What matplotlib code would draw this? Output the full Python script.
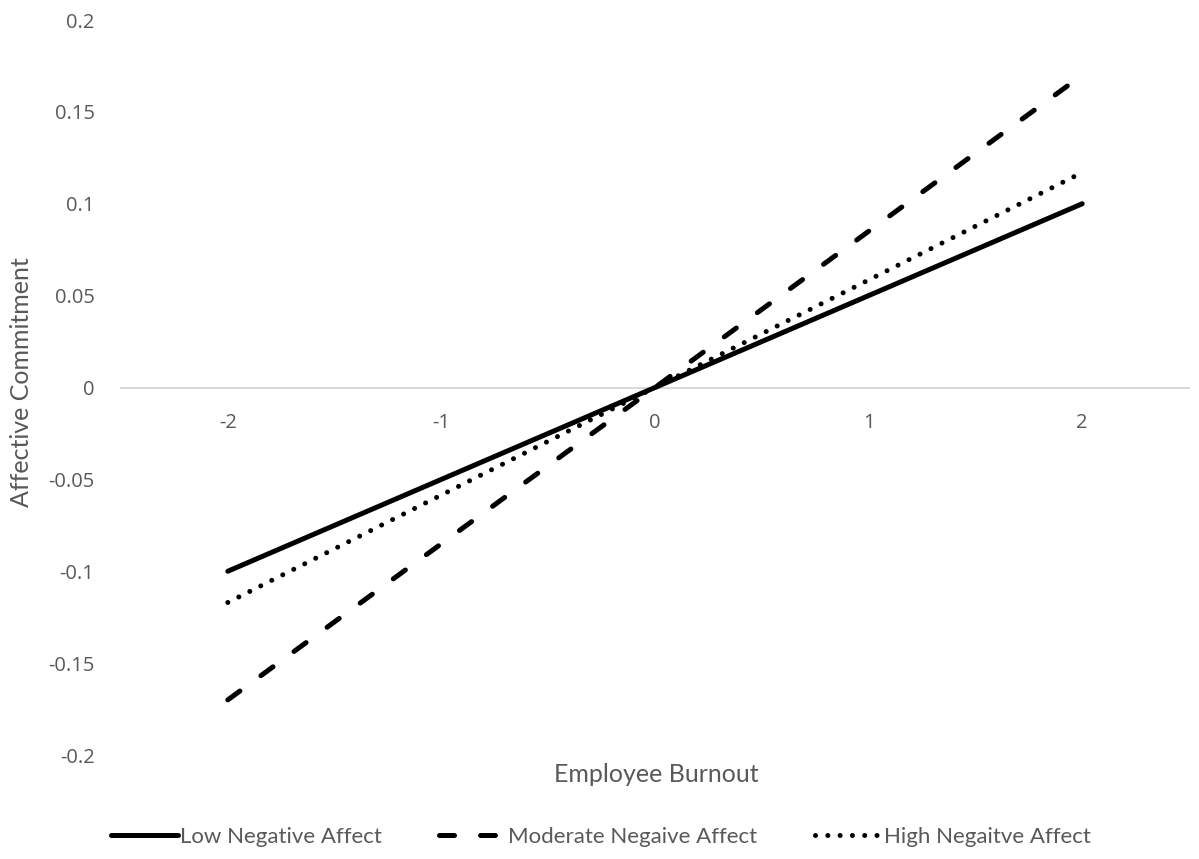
import numpy as np
import matplotlib.pyplot as plt

# values
burnout = [-2, -1, 0, 1, 2]
low_na = [-0.1, -0.05, 0, 0.05, 0.1]
moderate_na = [-0.17, -0.085, 0, 0.085, 0.17]
high_na = [-0.117, -0.0585, 0, 0.0585, 0.117]
series_names = ["Low Negative Affect", "Moderate Negaive Affect", "High Negaitve Affect"]
y_ticks = [0.2, 0.15, 0.1, 0.05, 0, -0.05, -0.1, -0.15, -0.2]

plt.rcParams['font.family'] = ['Open Sans', 'DejaVu Sans']
grey = "#595959"
label_font = ["Lato", "DejaVu Sans"]

fig = plt.figure(figsize=(11.99, 8.59), dpi=100)
ax = fig.add_axes([121 / 1199, 1 - 755 / 859, (1189 - 121) / 1199, (755 - 20) / 859])

lw = 3.6
ax.plot(burnout, low_na, color="black", lw=lw, solid_capstyle="round", label=series_names[0])
ax.plot(burnout, moderate_na, color="black", lw=lw, linestyle=(0, (3.0, 5.2)),
        dash_capstyle="round", label=series_names[1])
ax.plot(burnout, high_na, color="black", lw=lw, linestyle=(0, (0.01, 2.45)),
        dash_capstyle="round", label=series_names[2])

ax.set_xlim(-2.5, 2.5)
ax.set_ylim(-0.2, 0.2)
ax.set_xticks(burnout)
ax.set_xticklabels([str(v) for v in burnout])
ax.set_yticks(y_ticks)
ax.set_yticklabels([("%g" % v) for v in y_ticks])

for s in ["top", "right", "left"]:
    ax.spines[s].set_visible(False)
ax.spines["bottom"].set_position(("data", 0))
ax.spines["bottom"].set_color("#d9d9d9")
ax.spines["bottom"].set_linewidth(1.5)
ax.spines["bottom"].set_zorder(0)

ax.tick_params(axis="x", length=0, pad=18, labelsize=14.5, labelcolor=grey)
ax.tick_params(axis="y", length=0, pad=19, labelsize=14.5, labelcolor=grey)

fig.text(656 / 1199, 1 - 775 / 859, "Employee Burnout", ha="center", va="center",
         fontsize=18, color=grey, family=label_font)
fig.text(22 / 1199, 1 - 382 / 859, "Affective Commitment", ha="center", va="center",
         rotation=90, fontsize=18, color=grey, family=label_font)

leg = fig.legend(loc="center", bbox_to_anchor=(601 / 1199, 1 - 837 / 859), ncol=3,
                 frameon=False, handlelength=3.0, handletextpad=0.1,
                 columnspacing=2.6, prop={"family": label_font, "size": 16})
for t in leg.get_texts():
    t.set_color(grey)

fig.savefig("out.png", dpi=100)
